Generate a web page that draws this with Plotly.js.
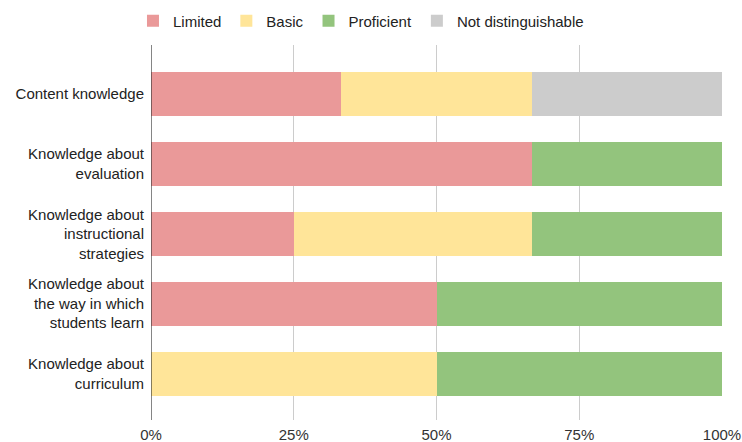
<!DOCTYPE html>
<html>
<head>
<meta charset="utf-8">
<script src="https://cdn.plot.ly/plotly-3.0.1.min.js"></script>
<style>html,body{margin:0;padding:0;background:#fff;}#chart{width:742px;height:442px;}</style>
</head>
<body>
<div id="chart"></div>
<script>
const categories = [
  "Content knowledge",
  "Knowledge about<br>evaluation",
  "Knowledge about<br>instructional<br>strategies",
  "Knowledge about<br>the way in which<br>students learn",
  "Knowledge about<br>curriculum"
];
const limited = [33.33, 66.67, 25, 50, 0];
const basic = [33.33, 0, 41.67, 0, 50];
const proficient = [0, 33.33, 33.33, 50, 50];
const notDistinguishable = [33.33, 0, 0, 0, 0];
const seriesNames = ["Limited", "Basic", "Proficient", "Not distinguishable"];
const seriesColors = ["#ea9999", "#ffe599", "#93c47d", "#cccccc"];
const tickVals = [0, 25, 50, 75, 100];
const tickText = ["0%", "25%", "50%", "75%", "100%"];

const seriesData = [limited, basic, proficient, notDistinguishable];
const traces = seriesData.map((vals, i) => ({
  type: "bar",
  orientation: "h",
  name: seriesNames[i],
  x: vals,
  y: categories,
  marker: {color: seriesColors[i], line: {width: 0}},
  hoverinfo: "skip"
}));

const layout = {
  width: 742, height: 442,
  margin: {l: 151, r: 20, t: 45, b: 22, pad: 0},
  barmode: "stack",
  bargap: 0.37,
  paper_bgcolor: "#fff",
  plot_bgcolor: "#fff",
  font: {family: "Liberation Sans, Arial, sans-serif", size: 15, color: "#222"},
  showlegend: true,
  legend: {
    orientation: "h",
    xref: "container", yref: "container",
    x: 0.4865, xanchor: "center",
    y: 0.99, yanchor: "top",
    font: {size: 15, color: "#222"},
    itemclick: false, itemdoubleclick: false,
    traceorder: "normal"
  },
  xaxis: {
    range: [0, 100],
    tickvals: tickVals,
    ticktext: tickText,
    showgrid: true,
    gridcolor: "#cccccc",
    gridwidth: 1,
    zeroline: false,
    showline: false,
    ticks: "",
    ticklabelstandoff: 4,
    tickfont: {size: 15, color: "#333"},
    fixedrange: true
  },
  yaxis: {
    type: "category",
    range: [4.665, -0.701],
    showgrid: false,
    zeroline: false,
    showline: false,
    ticks: "",
    ticklabelstandoff: 6,
    tickfont: {size: 15, color: "#222"},
    fixedrange: true
  },
  shapes: [{
    type: "line", xref: "x", yref: "paper",
    x0: 0, x1: 0, y0: 0, y1: 1,
    line: {color: "#333", width: 1.2}
  }]
};

Plotly.newPlot("chart", traces, layout, {displayModeBar: false, staticPlot: true});
</script>
</body>
</html>
